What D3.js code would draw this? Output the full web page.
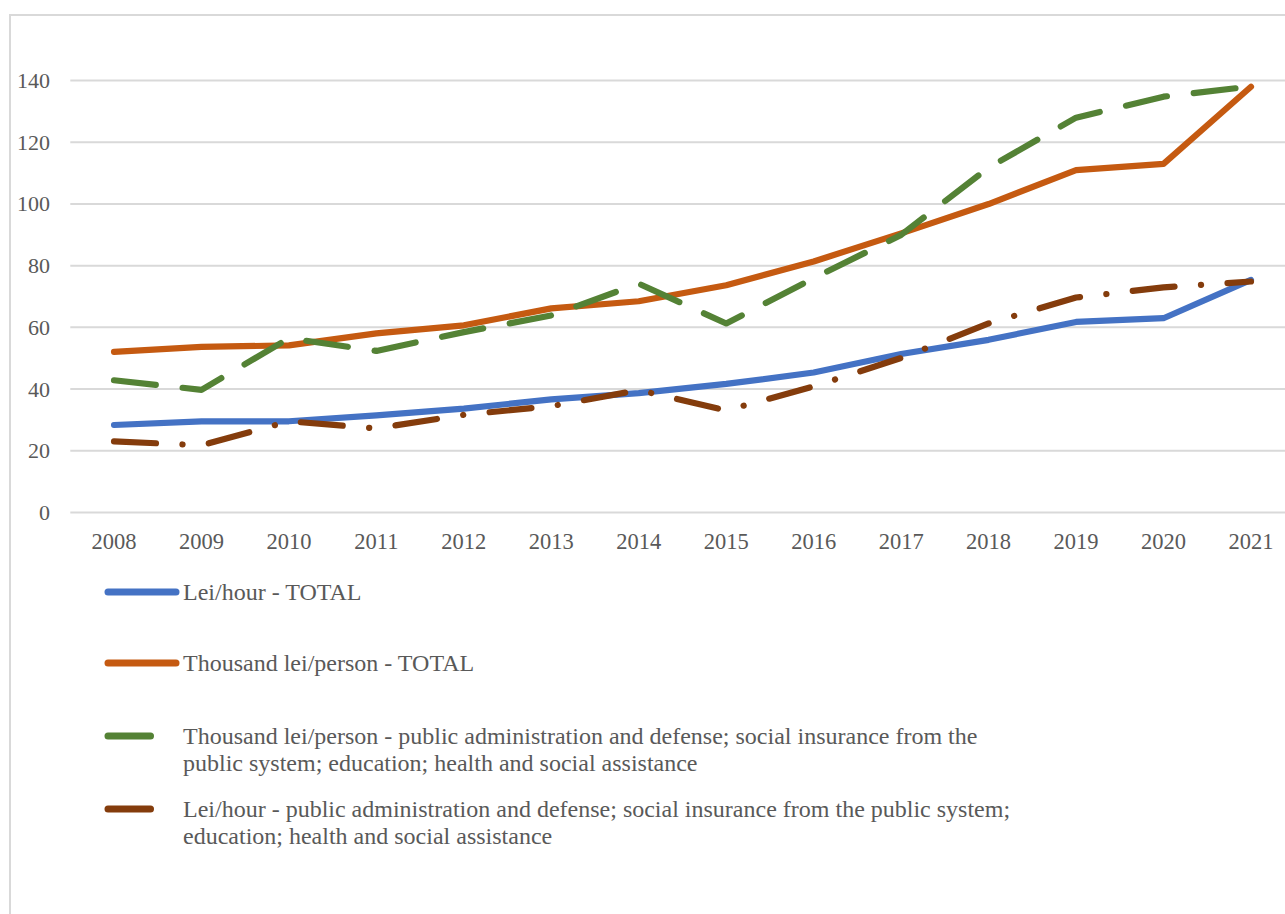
<!DOCTYPE html>
<html>
<head>
<meta charset="utf-8">
<script src="https://cdn.jsdelivr.net/npm/d3@7"></script>
<style>
  html, body { margin: 0; padding: 0; background: #fff; }
  svg { display: block; }
  text { font-family: "Liberation Serif", "Times New Roman", serif; fill: #595959; }
</style>
</head>
<body>
<svg id="chart" width="1285" height="914"></svg>
<script>
const years = ["2008","2009","2010","2011","2012","2013","2014","2015","2016","2017","2018","2019","2020","2021"];
const yTicks = [0, 20, 40, 60, 80, 100, 120, 140];

const leiHourTotal   = [28.2, 29.4, 29.4, 31.3, 33.5, 36.5, 38.5, 41.5, 45.2, 51.2, 55.8, 61.6, 62.8, 75.2];
const thLeiTotal     = [51.9, 53.5, 54.0, 57.9, 60.5, 66.0, 68.3, 73.5, 81.2, 90.3, 99.8, 110.8, 112.8, 137.8];
const thLeiPublic    = [42.7, 39.6, 56.3, 52.2, 58.3, 63.7, 74.0, 61.1, 75.8, 89.8, 111.6, 127.8, 134.6, 137.9];
const leiHourPublic  = [22.9, 21.6, 29.4, 27.1, 31.5, 34.3, 39.5, 32.9, 40.7, 49.9, 61.1, 69.5, 72.8, 74.7];

const seriesNames = [
  ["Lei/hour - TOTAL"],
  ["Thousand lei/person - TOTAL"],
  ["Thousand lei/person - public administration and defense; social insurance from the", "public system; education; health and social assistance"],
  ["Lei/hour - public administration and defense; social insurance from the public system;", "education; health and social assistance"]
];
const seriesColors = ["#4472C4", "#C55A11", "#548235", "#843C0C"];
const seriesDash = [null, null, "42,27", "42,26.5,0.1,26.5"];
const seriesData = [leiHourTotal, thLeiTotal, thLeiPublic, leiHourPublic];

const svg = d3.select("#chart");

// outer chart border (cropped on right/bottom)
svg.append("rect")
  .attr("x", 10).attr("y", 15).attr("width", 1400).attr("height", 1000)
  .attr("fill", "#fff").attr("stroke", "#d9d9d9").attr("stroke-width", 2);

const plotLeft = 70.3, plotRight = 1294.7;
const x = d3.scaleBand().domain(years).range([plotLeft, plotRight]);
const y = d3.scaleLinear().domain([0, 140]).range([512, 80]);

// gridlines
const yAxis = d3.axisLeft(y).tickValues(yTicks).tickSize(-(plotRight - plotLeft)).tickPadding(20);
const gy = svg.append("g").attr("transform", `translate(${plotLeft},0)`).call(yAxis);
gy.select(".domain").remove();
gy.selectAll(".tick line").attr("stroke", "#d9d9d9").attr("stroke-width", 2);
gy.selectAll(".tick text")
  .attr("x", 50 - plotLeft).attr("text-anchor", "end")
  .style("font-size", "22px").attr("dy", "0.34em");

const xAxis = d3.axisBottom(x).tickSize(0).tickPadding(0);
const gx = svg.append("g").attr("transform", `translate(0,512)`).call(xAxis);
gx.select(".domain").remove();
gx.selectAll(".tick text").attr("y", 36.5).attr("dy", 0).style("font-size", "22.5px");

const line = d3.line()
  .x((d, i) => x(years[i]) + x.bandwidth() / 2)
  .y(d => y(d));

seriesData.forEach((data, k) => {
  svg.append("path")
    .datum(data)
    .attr("d", line)
    .attr("fill", "none")
    .attr("stroke", seriesColors[k])
    .attr("stroke-width", 6.2)
    .attr("stroke-linecap", "round")
    .attr("stroke-linejoin", "round")
    .attr("stroke-dasharray", seriesDash[k]);
});

// legend
const legendLineY = [592, 663, 736, 809];
const legendText0 = [600, 671, 744, 817];
const legend = svg.append("g");
seriesNames.forEach((lines, k) => {
  legend.append("line")
    .attr("x1", 108).attr("x2", seriesDash[k] ? 150.5 : 176)
    .attr("y1", legendLineY[k]).attr("y2", legendLineY[k])
    .attr("stroke", seriesColors[k]).attr("stroke-width", 7)
    .attr("stroke-linecap", "round");
  const t = legend.append("text")
    .attr("x", 183).attr("y", legendText0[k])
    .style("font-size", "24px");
  lines.forEach((s, j) => {
    t.append("tspan").attr("x", 183).attr("dy", j === 0 ? 0 : 27).text(s);
  });
});
</script>
</body>
</html>
